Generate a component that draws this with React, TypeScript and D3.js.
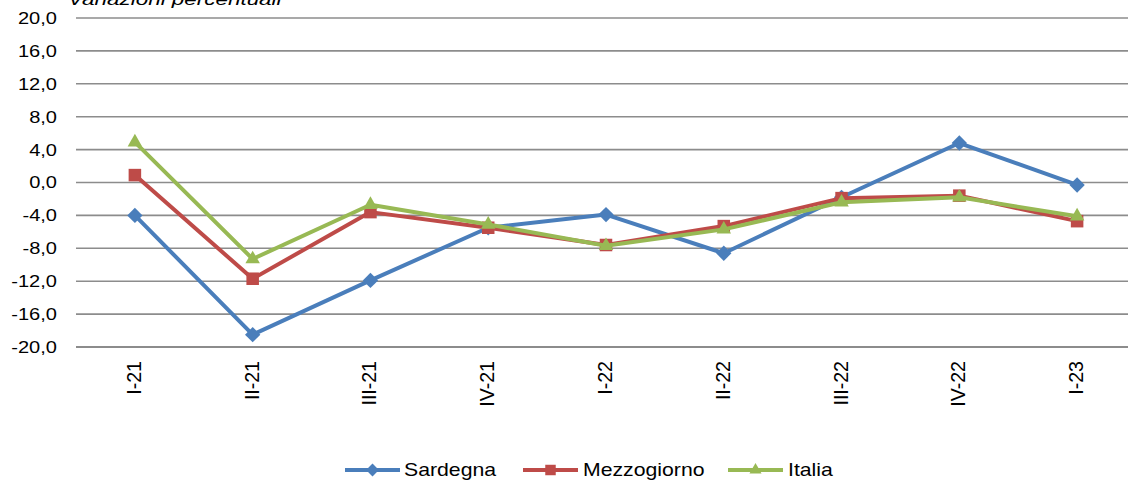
import React from 'react';
import * as d3 from 'd3';

const trimestri = ['I-21', 'II-21', 'III-21', 'IV-21', 'I-22', 'II-22', 'III-22', 'IV-22', 'I-23'];
const sardegna = [-4.0, -18.5, -11.9, -5.5, -3.9, -8.6, -1.8, 4.8, -0.3];
const mezzogiorno = [0.9, -11.7, -3.6, -5.5, -7.6, -5.3, -1.9, -1.6, -4.7];
const italia = [4.9, -9.3, -2.7, -5.1, -7.7, -5.7, -2.4, -1.8, -4.1];
const tickY = [-20, -16, -12, -8, -4, 0, 4, 8, 12, 16, 20];

const serie = [
  { nome: 'Sardegna', valori: sardegna, colore: '#4A7EBB', simbolo: d3.symbolDiamond2, area: 150 },
  { nome: 'Mezzogiorno', valori: mezzogiorno, colore: '#BE4B48', simbolo: d3.symbolSquare2, area: 200 },
  { nome: 'Italia', valori: italia, colore: '#98B954', simbolo: d3.symbolTriangle2, area: 150 },
];

const W = 1128;
const H = 486;
const font = 'Arial, "Liberation Sans", sans-serif';
const SX = 1.18; // il grafico originale è leggermente allargato in orizzontale

const App: React.FC = () => {
  const x = d3.scalePoint<string>().domain(trimestri).range([76, 1136]).padding(0.5);
  const y = d3.scaleLinear().domain([-20, 20]).range([347, 18]);
  const fmt = (v: number) => d3.format('.1f')(v).replace('.', ',').replace('−', '-');

  const linea = d3.line<number>()
    .x((_, i) => x(trimestri[i]) as number)
    .y((d) => y(d));

  const legenda = [
    { x0: 345, tx: 404 },
    { x0: 523, tx: 583 },
    { x0: 728, tx: 788 },
  ];

  return (
    <svg width={W} height={H} style={{ position: 'absolute', left: 0, top: 0, background: '#fff' }}>
      <text
        transform={`translate(68,5) scale(1.32,1)`}
        fontFamily={font}
        fontStyle="italic"
        fontSize={17}
        fill="#000"
      >
        Variazioni percentuali
      </text>

      {tickY.map((t) => (
        <g key={t}>
          <line x1={76} x2={W} y1={y(t)} y2={y(t)} stroke="#8C8C8C" strokeWidth={t === -20 ? 2 : 1.6} />
          <text
            transform={`translate(57,${y(t)}) scale(${SX},1)`}
            dy="0.35em"
            textAnchor="end"
            fontFamily={font}
            fontSize={17}
            fill="#000"
          >
            {fmt(t)}
          </text>
        </g>
      ))}

      {trimestri.map((c) => (
        <text
          key={c}
          transform={`translate(${(x(c) as number) + 6},361) rotate(-90) scale(1.15,${SX})`}
          textAnchor="end"
          fontFamily={font}
          fontSize={17}
          fill="#000"
        >
          {c}
        </text>
      ))}

      {serie.map((s) => (
        <g key={s.nome}>
          <path d={linea(s.valori) || ''} fill="none" stroke={s.colore} strokeWidth={4} strokeLinejoin="round" />
          {s.valori.map((v, i) => (
            <path
              key={i}
              d={d3.symbol(s.simbolo, s.area)() || ''}
              transform={`translate(${x(trimestri[i])},${y(v)})`}
              fill={s.colore}
            />
          ))}
        </g>
      ))}

      {serie.map((s, i) => (
        <g key={s.nome}>
          <line x1={legenda[i].x0} x2={legenda[i].x0 + 55} y1={470} y2={470} stroke={s.colore} strokeWidth={4} />
          <path
            d={d3.symbol(s.simbolo, s.area * 0.7)() || ''}
            transform={`translate(${legenda[i].x0 + 27.5},470)`}
            fill={s.colore}
          />
          <text
            transform={`translate(${legenda[i].tx},470) scale(${SX},1)`}
            dy="0.35em"
            fontFamily={font}
            fontSize={18}
            fill="#000"
          >
            {s.nome}
          </text>
        </g>
      ))}
    </svg>
  );
};

export default App;
